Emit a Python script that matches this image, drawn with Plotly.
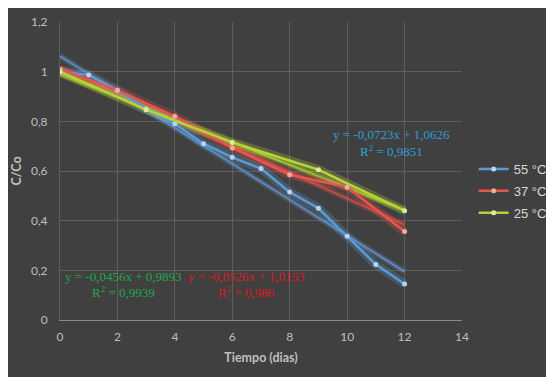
import plotly.graph_objects as go

# ---- data ----
x_55 = [0, 1, 2, 3, 4, 5, 6, 7, 8, 9, 10, 11, 12]
y_55 = [1.0, 0.987, 0.925, 0.85, 0.79, 0.71, 0.655, 0.61, 0.515, 0.45, 0.337, 0.223, 0.145]
x_37 = [0, 2, 4, 6, 8, 10, 12]
y_37 = [1.01, 0.925, 0.82, 0.693, 0.585, 0.535, 0.356]
x_25 = [0, 3, 6, 9, 12]
y_25 = [1.0, 0.847, 0.715, 0.605, 0.44]

series_names = ["55 °C", "37 °C", "25 °C"]
trend_slope = [-0.0723, -0.0526, -0.0456]
trend_icpt = [1.0626, 1.0153, 0.9893]
trend_eq = ["y = -0,0723x + 1,0626", "y = -0,0526x + 1,0153", "y = -0,0456x + 0,9893"]
trend_r2 = ["R<sup>2</sup> = 0,9851", "R<sup>2</sup> = 0,986", "R<sup>2</sup> = 0,9939"]
trend_range = [0, 12]

x_ticks = [0, 2, 4, 6, 8, 10, 12, 14]
y_ticks = [0, 0.2, 0.4, 0.6, 0.8, 1.0, 1.2]
y_ticktext = ["0", "0,2", "0,4", "0,6", "0,8", "1", "1,2"]

# ---- styles ----
line_cols = ["#5B9BD5", "#E8554B", "#B4D43A"]
glow_cols = ["rgba(91,155,213,0.25)", "rgba(232,85,75,0.25)", "rgba(200,220,60,0.25)"]
marker_cols = ["#B9D3F0", "#F3A9A2", "#DCEC98"]
trend_cols = ["rgba(110,150,210,0.75)", "rgba(225,80,70,0.7)", "rgba(160,205,40,0.85)"]
text_cols = ["#2E9FD6", "#E3151F", "#22A84A"]

xs = [x_55, x_37, x_25]
ys = [y_55, y_37, y_25]

fig = go.Figure()

# trendlines
for i in range(3):
    tx = trend_range
    ty = [trend_slope[i] * v + trend_icpt[i] for v in tx]
    fig.add_trace(go.Scatter(x=tx, y=ty, mode="lines",
                             line=dict(color=glow_cols[i], width=6),
                             showlegend=False, hoverinfo="skip"))
    fig.add_trace(go.Scatter(x=tx, y=ty, mode="lines",
                             line=dict(color=trend_cols[i], width=2),
                             showlegend=False, hoverinfo="skip"))

# glows for series
for i in range(3):
    fig.add_trace(go.Scatter(x=xs[i], y=ys[i], mode="lines",
                             line=dict(color=glow_cols[i], width=9),
                             showlegend=False, hoverinfo="skip"))

# series
for i in range(3):
    fig.add_trace(go.Scatter(x=xs[i], y=ys[i], mode="lines+markers", name=series_names[i],
                             legendgroup="g%d" % i,
                             line=dict(color=line_cols[i], width=2.5),
                             marker=dict(color=marker_cols[i], size=5, symbol="circle",
                                         line=dict(width=0))))

# annotations
ann_pos = [(11.53, 0.745, 0.68), (6.5, 0.177, 0.113), (2.2, 0.177, 0.113)]
for i in range(3):
    ax, ay1, ay2 = ann_pos[i]
    fig.add_annotation(x=ax, y=ay1, text=trend_eq[i], showarrow=False,
                       font=dict(family="Liberation Serif", size=13, color=text_cols[i]))
    fig.add_annotation(x=ax, y=ay2, text=trend_r2[i], showarrow=False,
                       font=dict(family="Liberation Serif", size=13, color=text_cols[i]))

axis_font = dict(family="Lato", size=12, color="#BFBFBF")
fig.update_layout(
    width=546, height=369,
    margin=dict(l=52, r=92, t=14, b=57, autoexpand=False),
    paper_bgcolor="#404040",
    plot_bgcolor="#404040",
    separators=",.",
    showlegend=True,
    legend=dict(x=1.029, y=0.433, xanchor="left", yanchor="middle",
                font=dict(family="Liberation Sans", size=13, color="#D9D9D9"),
                bgcolor="rgba(0,0,0,0)", tracegroupgap=2, itemwidth=30,
                traceorder="grouped"),
    xaxis=dict(range=[0, 14], tickvals=x_ticks, showgrid=True, gridcolor="#5E5E5E", gridwidth=1,
               showline=True, linecolor="#8A8A8A", linewidth=1, zeroline=False,
               ticks="outside", ticklen=6, tickcolor="rgba(0,0,0,0)",
               tickfont=axis_font,
               title=dict(text="<b>Tiempo (dias)</b>", standoff=9,
                          font=dict(family="Lato", size=12.5, color="#BFBFBF"))),
    yaxis=dict(range=[0, 1.2], tickvals=y_ticks, ticktext=y_ticktext, showgrid=True,
               gridcolor="#5E5E5E", gridwidth=1, showline=True, linecolor="#5E5E5E",
               zeroline=False, ticks="outside", ticklen=9, tickcolor="rgba(0,0,0,0)",
               tickfont=axis_font,
               title=dict(text="<b>C/Co</b>", standoff=6,
                          font=dict(family="Lato", size=12.5, color="#BFBFBF"))),
)

fig.write_html("out.html")
